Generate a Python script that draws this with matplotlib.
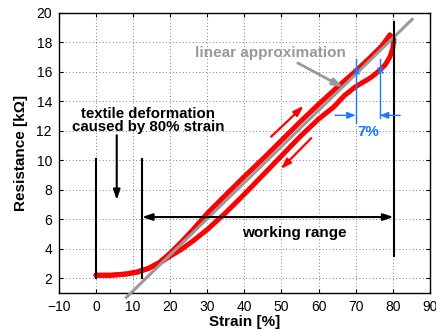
import matplotlib
matplotlib.use("Agg")
import matplotlib.pyplot as plt

plt.rcParams['font.family'] = ['Liberation Sans', 'DejaVu Sans']

# Loading curve (strain %, resistance kOhm)
load_x = [0, 4, 8, 11, 14, 17, 20, 23, 26, 30, 35, 40, 45, 50, 55, 60, 65, 70, 74, 77, 79.2]
load_y = [2.2, 2.2, 2.28, 2.42, 2.65, 3.05, 3.7, 4.45, 5.25, 6.4, 7.65, 8.9, 10.1, 11.35, 12.6, 13.8, 14.95, 16.05, 17.0, 17.75, 18.5]
# Unloading curve
unload_x = [79.2, 80.3, 80.0, 79.2, 78, 76.5, 74, 72, 70, 67, 64, 60, 55, 50, 45, 40, 35, 30, 26, 23, 20, 17, 14, 11, 8, 4, 0]
unload_y = [18.5, 18.2, 17.6, 17.0, 16.5, 16.1, 15.6, 15.3, 15.0, 14.4, 13.6, 12.8, 11.6, 10.3, 9.0, 7.7, 6.45, 5.3, 4.5, 3.95, 3.5, 3.0, 2.65, 2.4, 2.28, 2.2, 2.2]
# Linear approximation endpoints
lin_x = [8.2, 85.2]
lin_y = [0.7, 19.56]

xticks = list(range(-10, 91, 10))
yticks = list(range(2, 21, 2))

fig = plt.figure(figsize=(4.36, 3.31), dpi=100)
ax = fig.add_axes([0.135, 0.115, 0.851, 0.846])

red = '#ff0000'
gray = '#999999'
blue = '#1e78ff'

ax.plot(load_x, load_y, color=red, lw=3.6, solid_capstyle='round', solid_joinstyle='round', zorder=3)
ax.plot(unload_x, unload_y, color=red, lw=3.6, solid_capstyle='round', solid_joinstyle='round', zorder=3)
ax.plot(lin_x, lin_y, color=gray, lw=2.2, zorder=4, clip_on=False)

# black lines
ax.plot([0, 0], [2, 10.1], color='k', lw=1.5, zorder=5)
ax.plot([12.4, 12.4], [2, 10.1], color='k', lw=1.5, zorder=5)
ax.plot([80.2, 80.2], [3.5, 19.35], color='k', lw=1.5, zorder=5)
ax.annotate('', xy=(5.6, 7.3), xytext=(5.6, 11.7),
            arrowprops=dict(arrowstyle='-|>,head_length=0.6,head_width=0.2', color='k', lw=1.5,
                            shrinkA=0, shrinkB=0), zorder=6)
ax.annotate('', xy=(12.4, 6.15), xytext=(80.2, 6.15),
            arrowprops=dict(arrowstyle='<|-|>,head_length=0.6,head_width=0.2', color='k', lw=1.5,
                            shrinkA=0, shrinkB=0), zorder=6)

ax.text(14.0, 12.7, 'textile deformation\ncaused by 80% strain', ha='center', va='center',
        fontsize=10.8, fontweight='bold', linespacing=0.95, zorder=7)
ax.text(53.5, 5.05, 'working range', ha='center', va='center', fontsize=11, fontweight='bold', zorder=7)
ax.text(47.0, 17.3, 'linear approximation', ha='center', va='center', fontsize=11,
        fontweight='bold', color=gray, zorder=7)
ax.annotate('', xy=(66.6, 14.95), xytext=(54.4, 16.6),
            arrowprops=dict(arrowstyle='-|>,head_length=0.6,head_width=0.2', color=gray, lw=2.0,
                            shrinkA=0, shrinkB=0), zorder=7)

# red direction arrows
ax.annotate('', xy=(56, 13.7), xytext=(47.2, 11.6),
            arrowprops=dict(arrowstyle='-|>,head_length=0.6,head_width=0.2', color=red, lw=1.6,
                            shrinkA=0, shrinkB=0), zorder=7)
ax.annotate('', xy=(49.8, 9.4), xytext=(58, 11.5),
            arrowprops=dict(arrowstyle='-|>,head_length=0.6,head_width=0.2', color=red, lw=1.6,
                            shrinkA=0, shrinkB=0), zorder=7)

# blue hysteresis markers
ax.plot([70, 70], [12.5, 16.9], color=blue, lw=1.0, zorder=8)
ax.plot([76.5, 76.5], [12.85, 16.9], color=blue, lw=1.0, zorder=8)
ax.plot([70, 76.5], [16.05, 16.1], ls='none', marker='x', ms=5, mew=1.0, color=blue, zorder=8)
ax.annotate('', xy=(70, 13.05), xytext=(64.4, 13.05),
            arrowprops=dict(arrowstyle='-|>,head_length=0.5,head_width=0.2', color=blue, lw=1.0,
                            shrinkA=0, shrinkB=0), zorder=8)
ax.annotate('', xy=(76.5, 13.05), xytext=(82, 13.05),
            arrowprops=dict(arrowstyle='-|>,head_length=0.5,head_width=0.2', color=blue, lw=1.0,
                            shrinkA=0, shrinkB=0), zorder=8)
ax.text(73.3, 11.9, '7%', ha='center', va='center', fontsize=11, fontweight='bold', color=blue, zorder=8)

ax.set_xlim(-10, 90)
ax.set_ylim(1, 20)
ax.set_xticks(xticks)
ax.set_yticks(yticks)
ax.tick_params(direction='in', top=True, right=True, labelsize=10, length=3, pad=5)
ax.grid(True, color='#555555', ls=(0, (1, 3)), lw=0.6)
ax.set_axisbelow(True)
for s in ax.spines.values():
    s.set_linewidth(1.0)
ax.set_xlabel('Strain [%]', fontsize=11, fontweight='bold', labelpad=1)
ax.set_ylabel('Resistance [kΩ]', fontsize=11, fontweight='bold', labelpad=6)

fig.savefig('out.png', dpi=100)
